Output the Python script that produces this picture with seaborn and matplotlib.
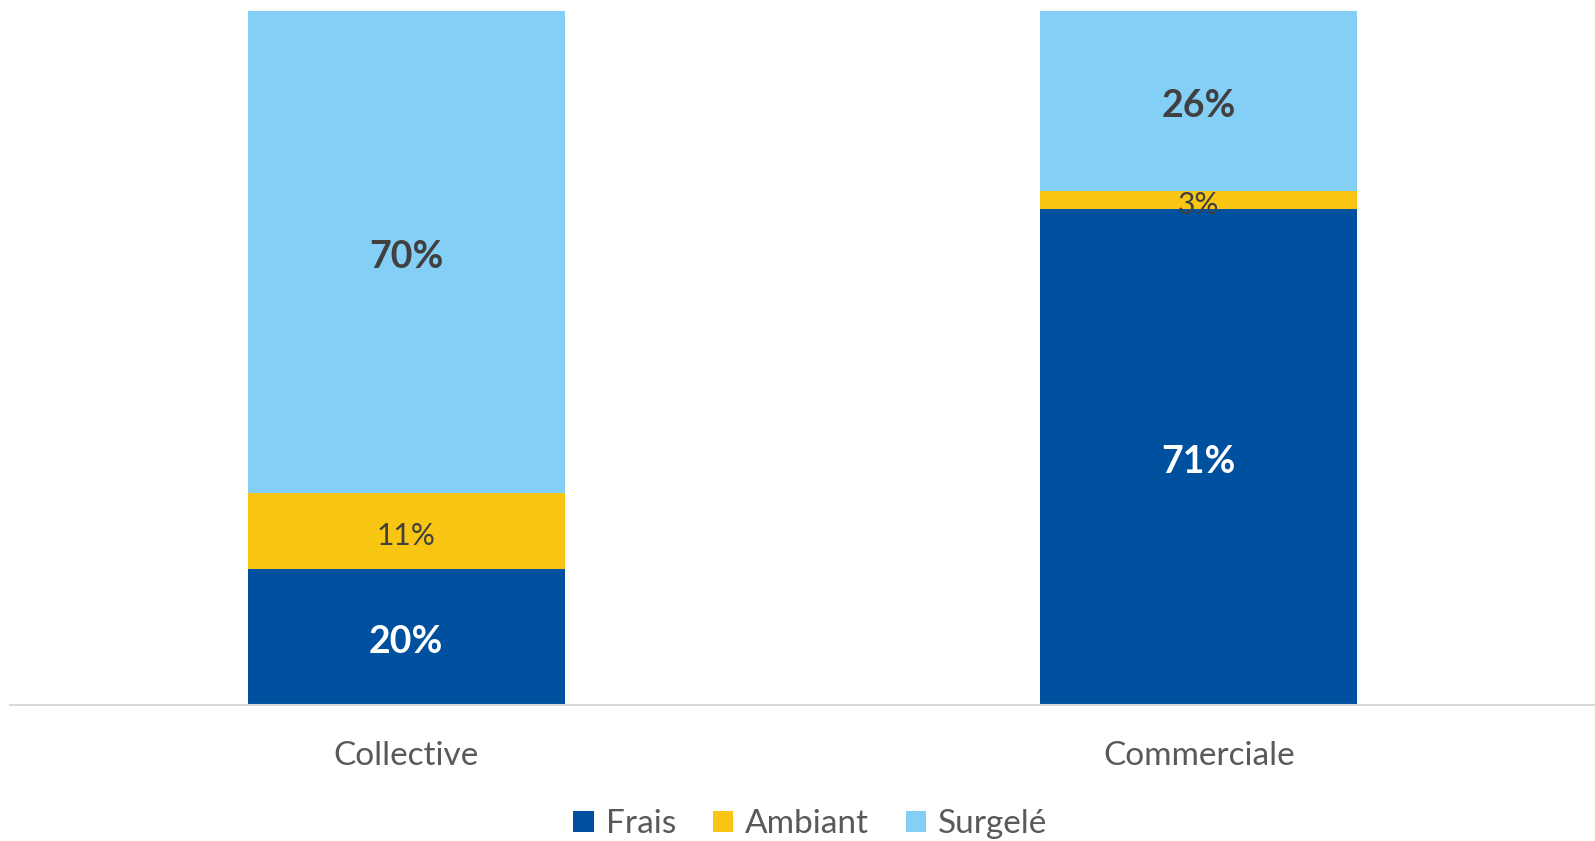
import matplotlib.pyplot as plt
import seaborn as sns
import numpy as np
import pandas as pd

# Data (share of volume, %)
categories = ['Collective', 'Commerciale']
frais = [19.6, 71.4]
ambiant = [10.9, 2.6]
surgele = [69.5, 26.0]
series_names = ['Frais', 'Ambiant', 'Surgelé']

colors = ['#0050A0', '#F9C513', '#83CFF5']
label_colors = ['white', '#404040', '#404040']

sns.set_theme(style='white')
plt.rcParams['font.family'] = ['Lato', 'DejaVu Sans']

fig = plt.figure(figsize=(15.95, 8.41), dpi=100)
ax = fig.add_axes([0.0063, 0.1617, 0.9937, 0.8253])

series = [frais, ambiant, surgele]
bottom = np.zeros(len(categories))
for name, vals, col, lcol in zip(series_names, series, colors, label_colors):
    df = pd.DataFrame({'cat': categories, 'val': vals})
    sns.barplot(data=df, x='cat', y='val', color=col, bottom=bottom,
                width=0.4, saturation=1, ax=ax, label=name, linewidth=0)
    for i, v in enumerate(vals):
        small = v < 15
        ax.annotate(f'{round(v):d}%', (i, bottom[i] + v / 2), xytext=(0, -3.5),
                    textcoords='offset points', ha='center', va='center',
                    fontsize=21.5 if small else 27,
                    fontweight='normal' if small else 'bold', color=lcol)
    bottom = bottom + np.array(vals)

ax.set_ylim(0, 100)
ax.set_xlim(-0.5, 1.5)
ax.set_xlabel('')
ax.set_ylabel('')
ax.set_yticks([])
ax.tick_params(axis='x', labelsize=24, colors='#595959', pad=26, length=0)
for s in ['top', 'right', 'left']:
    ax.spines[s].set_visible(False)
ax.spines['bottom'].set_color('#D9D9D9')
ax.spines['bottom'].set_linewidth(1.5)

leg = ax.legend(loc='center', bbox_to_anchor=(0.508, 0.02), bbox_transform=fig.transFigure,
                ncol=3, frameon=False, fontsize=24, handlelength=0.62, handleheight=0.62,
                handletextpad=0.35, columnspacing=1.1, borderpad=0.1)
for t in leg.get_texts():
    t.set_color('#595959')

fig.savefig('out.png', dpi=100)
